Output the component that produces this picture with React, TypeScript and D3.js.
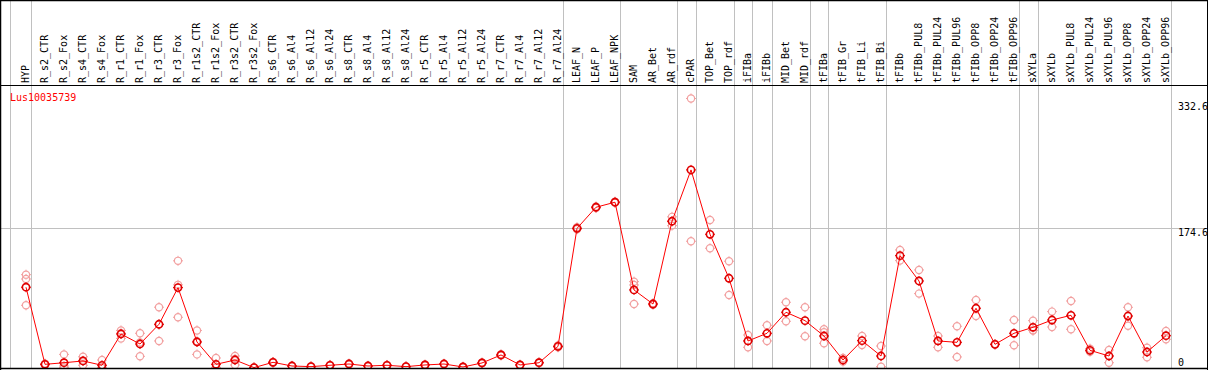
import React from "react";
import * as d3 from "d3";

const geneName = "Lus10035739";

const categories = [
  "HYP", "R_s2_CTR", "R_s2_Fox", "R_s4_CTR", "R_s4_Fox", "R_r1_CTR", "R_r1_Fox", "R_r3_CTR", "R_r3_Fox",
  "R_r1s2_CTR", "R_r1s2_Fox", "R_r3s2_CTR", "R_r3s2_Fox", "R_s6_CTR", "R_s6_Al4", "R_s6_Al12", "R_s6_Al24",
  "R_s8_CTR", "R_s8_Al4", "R_s8_Al12", "R_s8_Al24", "R_r5_CTR", "R_r5_Al4", "R_r5_Al12", "R_r5_Al24",
  "R_r7_CTR", "R_r7_Al4", "R_r7_Al12", "R_r7_Al24", "LEAF_N", "LEAF_P", "LEAF_NPK", "SAM", "AR_Bet", "AR_rdf",
  "cPAR", "TOP_Bet", "TOP_rdf", "iFIBa", "iFIBb", "MID_Bet", "MID_rdf", "tFIBa", "tFIB_Gr", "tFIB_Li", "tFIB_Bi",
  "tFIBb", "tFIBb_PUL8", "tFIBb_PUL24", "tFIBb_PUL96", "tFIBb_OPP8", "tFIBb_OPP24", "tFIBb_OPP96",
  "sXYLa", "sXYLb", "sXYLb_PUL8", "sXYLb_PUL24", "sXYLb_PUL96", "sXYLb_OPP8", "sXYLb_OPP24", "sXYLb_OPP96",
];

const means = [
  101, 4.6, 6.6, 8.8, 3.4, 42.5, 30, 54.7, 100.5,
  32.5, 4.6, 10, 0.5, 7.1, 2.5, 1.7, 3.4,
  5, 2.5, 3.4, 1.7, 3.8, 5, 1.3, 6.3,
  16.3, 3.8, 6.6, 27, 174.6, 201, 207.3, 97.6, 80, 183.5,
  247.7, 167.2, 112.2, 33.8, 43.4, 69.7, 59.2, 40, 10, 34.2, 15,
  140.5, 108.8, 33.8, 32.1, 74.7, 29.6, 43.4,
  50.9, 60, 65.9, 22.1, 15, 65, 20, 40.4,
];

const replicates = [
  [116.7, 111.3, 78.4], [5.5, 3.8, 4.5], [17, 0.5, 2.5], [14, 3.4, 9], [10, 0.2, 0],
  [47, 37, 43.5], [43.4, 14.6, 32], [76, 33.8, 54.3], [134, 63.4, 104],
  [47, 17, 33.5], [12.5, 0.8, 0.5], [15, 3.8, 11.2], [0.3, 0.8, 0.4], [7.5, 6.5, 7.3],
  [2.9, 2.2, 2.4], [2.1, 1.4, 1.6], [3.9, 3.0, 3.3],
  [5.6, 4.5, 4.9], [2.9, 2.1, 2.5], [3.8, 3.0, 3.4], [2.0, 1.3, 1.8], [4.3, 3.4, 3.7], [5.5, 4.6, 4.9], [1.6, 1.0, 1.3], [6.9, 5.8, 6.2],
  [17.2, 15.5, 16.2], [4.2, 3.4, 3.8], [7.2, 6.1, 6.5], [28.3, 25.9, 26.8],
  [176, 173.5], [202, 200], [208, 206.5], [108, 103.8, 80], [81, 79], [189, 178, 183.5],
  [337, 158.5], [185, 149.7], [133.5, 91.3], [41.3, 25.9], [53.4, 33.8], [82.2, 58.4], [75.9, 39.7],
  [48.4, 44.7, 30.9], [12.5, 8, 9.5], [40, 28.8], [27.5, 1.7],
  [147.6, 134.3], [122.6, 93], [40, 25.9], [52.2, 13.8], [85, 65], [29.2, 30], [60, 28.4],
  [59.2, 47.1, 46.8], [70.5, 51.3], [83.8, 48.4], [24.2, 20.4], [22.5, 6.6], [75.9, 52.9], [25.4, 13.4], [46.3, 35.9],
];

// index of last column in each group (a grey separator follows it)
const groupEnds = [0, 28, 31, 34, 35, 37, 38, 39, 41, 42, 45, 52, 53, 60];

const yTickValues = [332.6, 174.6, 0];
const gridValues = [174.6];

export default function App() {
  const W = 1209;
  const H = 370;
  const x = d3.scaleLinear().domain([0, categories.length - 1]).range([26, 1166]);
  const y = d3.scaleLinear().domain([0, 332.6]).range([368, 102]);
  const line = d3
    .line<number>()
    .x((_, i) => x(i))
    .y((d) => y(d));
  const font = "'DejaVu Sans Mono', monospace";
  const pale = "#f2a0a0";

  const marker = (cx: number, cy: number, color: string, sw: number, key: string) => (
    <g key={key}>
      <circle cx={cx} cy={cy} r={3.6} fill="none" stroke={color} strokeWidth={sw} />
      <line x1={cx} x2={cx} y1={cy - 5} y2={cy - 3.6} stroke={color} strokeWidth={1} />
      <line x1={cx} x2={cx} y1={cy + 3.6} y2={cy + 5} stroke={color} strokeWidth={1} />
      <line x1={cx - 5} x2={cx - 3.6} y1={cy} y2={cy} stroke={color} strokeWidth={1} />
      <line x1={cx + 3.6} x2={cx + 5} y1={cy} y2={cy} stroke={color} strokeWidth={1} />
    </g>
  );

  return (
    <svg
      width={W}
      height={H}
      style={{ position: "absolute", left: 0, top: 0, background: "#fff" }}
      fontFamily={font}
    >
      <rect x={0} y={0} width={W} height={H} fill="#fff" />
      <defs>
        <clipPath id="plotclip">
          <rect x={1} y={86} width={1206} height={282} />
        </clipPath>
      </defs>
      {/* vertical group separators */}
      <line x1={10.5} x2={10.5} y1={0} y2={369} stroke="#c0c0c0" strokeWidth={1} />
      {groupEnds.map((g) => {
        const gx = Math.round(x(g) + 4.5) + 0.5;
        return <line key={"v" + g} x1={gx} x2={gx} y1={0} y2={369} stroke="#c0c0c0" strokeWidth={1} />;
      })}
      {/* horizontal grid */}
      {gridValues.map((v) => {
        const gy = Math.round(y(v)) + 0.5;
        return <line key={"h" + v} x1={1} x2={1207} y1={gy} y2={gy} stroke="#c0c0c0" strokeWidth={1} />;
      })}
      {/* column labels */}
      {categories.map((c, i) => (
        <text
          key={c}
          transform={`translate(${x(i) + 3},83) rotate(-90)`}
          fontSize={10}
          fill="#000"
        >
          {c}
        </text>
      ))}
      {/* y tick labels */}
      {yTickValues.map((v) => (
        <text key={"t" + v} x={1178} y={v === 0 ? 366 : Math.round(y(v)) + 8} fontSize={10} fill="#000">
          {String(v)}
        </text>
      ))}
      <text x={10} y={101} fontSize={10} fill="#ff0000">
        {geneName}
      </text>
      <g clipPath="url(#plotclip)">
        {replicates.map((reps, i) =>
          reps.map((r, j) => marker(x(i), y(r), pale, 1.2, `r${i}-${j}`))
        )}
        <path d={line(means) || ""} fill="none" stroke="#ff0000" strokeWidth={1} />
        {means.map((m, i) => marker(x(i), y(m), "#e00000", 1.6, `m${i}`))}
      </g>
      {/* frame */}
      <line x1={0} x2={1208} y1={0.5} y2={0.5} stroke="#000" strokeWidth={1.5} />
      <line x1={0} x2={1208} y1={85.5} y2={85.5} stroke="#000" strokeWidth={1} />
      <line x1={0.5} x2={0.5} y1={0} y2={370} stroke="#000" strokeWidth={1.5} />
      <line x1={1207.5} x2={1207.5} y1={0} y2={370} stroke="#000" strokeWidth={1} />
      <line x1={0} x2={1208} y1={368.5} y2={368.5} stroke="#000" strokeWidth={1.5} />
    </svg>
  );
}
